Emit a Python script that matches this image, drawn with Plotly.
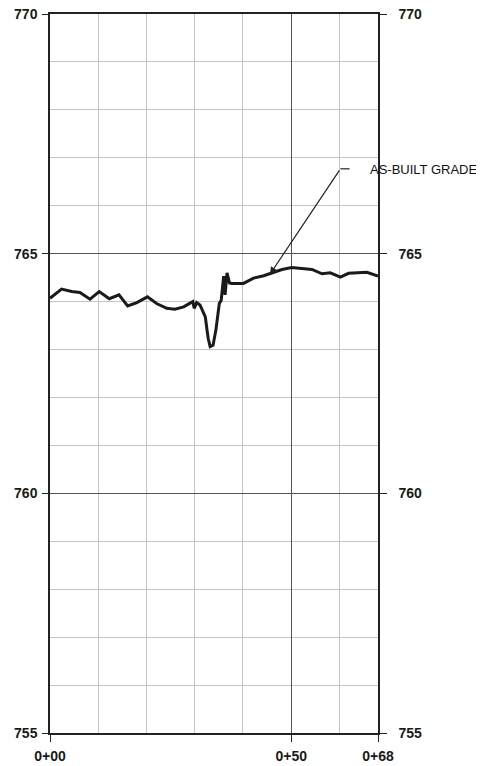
import plotly.graph_objects as go

# as-built grade profile, station (ft from 0+00) vs elevation
station = [0, 2.4, 4.5, 6.2, 8.3, 10.2, 12.3, 14.3, 16.1, 18.0, 20.2, 22.1,
           24.2, 25.9, 27.7, 29.6, 29.9, 30.4, 31.1, 32.2, 32.5, 32.8, 33.2,
           33.8, 34.4, 35.1, 35.5, 36.0, 36.3, 36.7, 37.2, 37.7, 40.1, 42.2,
           44.3, 46.0, 48.1, 50.1, 53.3, 54.3, 56.4, 58.1, 60.2, 61.9, 65.7, 68.0]
elev = [764.07, 764.26, 764.21, 764.19, 764.05, 764.21, 764.06, 764.14, 763.91,
        763.98, 764.10, 763.96, 763.86, 763.84, 763.89, 764.00, 763.86, 763.98,
        763.93, 763.68, 763.45, 763.23, 763.06, 763.09, 763.41, 763.96, 764.03,
        764.53, 764.14, 764.60, 764.39, 764.38, 764.38, 764.49, 764.54, 764.60,
        764.67, 764.71, 764.68, 764.67, 764.58, 764.60, 764.51, 764.59, 764.61,
        764.53]

x_ticks = [0, 50, 68]
x_labels = ["0+00", "0+50", "0+68"]
y_ticks = [755, 760, 765, 770]

light = "#c4c4c4"
dark = "#555555"
tickfont = dict(family="Liberation Sans, Arial", size=14, color="#1a1a1a",
                weight="bold")

fig = go.Figure()
fig.add_scatter(x=station, y=elev, mode="lines",
                line=dict(color="#1a1a1a", width=3), showlegend=False)
# dummy trace so the right axis shows
fig.add_scatter(x=[0], y=[760], yaxis="y2", mode="markers",
                marker=dict(opacity=0), showlegend=False, hoverinfo="skip")

# leader line for the label
fig.add_shape(type="line", x0=60.2, y0=766.77, x1=62.1, y1=766.77,
              xref="x", yref="y", line=dict(color="#222222", width=1.2))
fig.add_annotation(x=45.6, y=764.57, ax=60.2, ay=766.77, axref="x", ayref="y",
                   xref="x", yref="y", text="", showarrow=True,
                   arrowhead=2, arrowsize=1.2, arrowwidth=1.2,
                   arrowcolor="#222222")
fig.add_annotation(x=66.0, y=766.75, xref="x", yref="y", text="AS-BUILT GRADE",
                   showarrow=False, xanchor="left", yanchor="middle",
                   font=dict(family="Liberation Sans, Arial", size=13,
                             color="#111111"))

# page body has an 8px margin, so the figure is sized to fit inside it
fig.update_layout(
    width=476, height=758,
    margin=dict(l=42, r=106, t=6, b=33),
    paper_bgcolor="white", plot_bgcolor="white",
    xaxis=dict(range=[0, 68], tickvals=x_ticks, ticktext=x_labels,
               ticks="outside", ticklen=7, tickcolor="#222222",
               tickfont=tickfont,
               ticklabelstandoff=2, automargin=False, ticklabeloverflow="allow",
               showline=True, linecolor="#222222", linewidth=1.5, mirror=True,
               showgrid=True, gridcolor=dark, gridwidth=1, zeroline=False,
               minor=dict(tick0=0, dtick=10, showgrid=True, gridcolor=light,
                          ticks="")),
    yaxis=dict(range=[755, 770], tickvals=y_ticks, ticks="outside", ticklen=6,
               tickcolor="#222222", tickfont=tickfont,
               ticklabelstandoff=2, automargin=False,
               ticklabeloverflow="allow",
               showline=True, linecolor="#222222", linewidth=1.5,
               showgrid=True, gridcolor=dark, gridwidth=1, zeroline=False,
               minor=dict(tick0=755, dtick=1, showgrid=True, gridcolor=light,
                          ticks="")),
    yaxis2=dict(range=[755, 770], tickvals=y_ticks, ticks="outside", ticklen=7,
                tickcolor="#222222", tickfont=tickfont,
                ticklabelstandoff=9, automargin=False,
                ticklabeloverflow="allow",
                overlaying="y", side="right", showgrid=False, zeroline=False,
                showline=True, linecolor="#222222", linewidth=1.5),
)

fig.write_html("out.html")
